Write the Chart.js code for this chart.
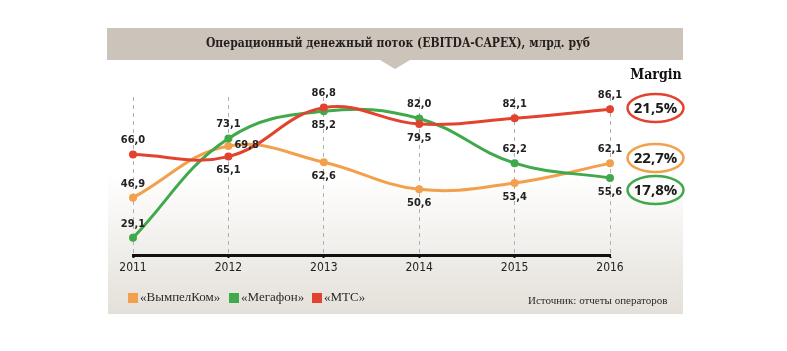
<!DOCTYPE html>
<html>
<head>
<meta charset="utf-8">
<script src="https://cdn.jsdelivr.net/npm/chart.js@4.4.1/dist/chart.umd.min.js"></script>
<style>
  html, body { margin: 0; padding: 0; background: #ffffff; }
  #wrap { width: 787px; height: 351px; position: relative; }
</style>
</head>
<body>
<div id="wrap"><canvas id="cashFlowChart" width="787" height="351"></canvas></div>
<script>
// Данные графика
const years = ['2011', '2012', '2013', '2014', '2015', '2016'];
const vimpelcom = [46.9, 69.8, 62.6, 50.6, 53.4, 62.1];
const megafon = [29.1, 73.1, 85.2, 82.0, 62.2, 55.6];
const mts = [66.0, 65.1, 86.8, 79.5, 82.1, 86.1];
const seriesNames = ['«ВымпелКом»', '«Мегафон»', '«МТС»'];
const margins = ['22,7%', '17,8%', '21,5%'];

const titleText = 'Операционный денежный поток (EBITDA-CAPEX), млрд. руб';
const sourceText = 'Источник: отчеты операторов';

// Цвета серий
const orange = '#f2a04c';
const green = '#3fa94b';
const red = '#e2432f';

// где ставить подпись у каждой точки
const labelSide = [
    ['top', 'right', 'bottom', 'bottom', 'bottom', 'top'],
    ['top', 'top', 'bottom', 'top', 'top', 'bottom'],
    ['top', 'bottom', 'top', 'bottom', 'top', 'top'],
];

const fmt = (v) => v.toFixed(1).replace('.', ',');

// фон, плашка заголовка, подписи, легенда, овалы с маржой
const decorPlugin = {
    id: 'decor',
    beforeDraw(chart) {
        const c = chart.ctx;
        c.save();
        // панель с градиентом
        const g = c.createLinearGradient(0, 60, 0, 314);
        g.addColorStop(0, '#ffffff');
        g.addColorStop(0.45, '#ffffff');
        g.addColorStop(1, '#e4e0d9');
        c.fillStyle = g;
        c.fillRect(108, 60, 575, 254);
        // плашка заголовка
        c.fillStyle = '#ccc4bb';
        c.fillRect(107, 28, 576, 32);
        c.beginPath();
        c.moveTo(380, 60);
        c.lineTo(410, 60);
        c.lineTo(395, 69);
        c.closePath();
        c.fill();
        c.fillStyle = '#231f1c';
        c.font = 'bold 12px "DejaVu Serif Condensed", "DejaVu Serif", serif';
        c.textAlign = 'center';
        c.textBaseline = 'middle';
        c.fillText(titleText, 398, 44);
        c.restore();
    },
    afterDatasetsDraw(chart) {
        const c = chart.ctx;
        c.save();
        c.textBaseline = 'middle';
        // подписи значений
        c.font = 'bold 11px "DejaVu Sans Condensed", "DejaVu Sans", sans-serif';
        c.fillStyle = '#222222';
        chart.data.datasets.forEach((ds, i) => {
            const meta = chart.getDatasetMeta(i);
            meta.data.forEach((pt, j) => {
                const side = labelSide[i][j];
                const txt = fmt(ds.data[j]);
                if (side === 'right') {
                    c.textAlign = 'left';
                    c.fillText(txt, pt.x + 6, pt.y - 1);
                } else {
                    c.textAlign = 'center';
                    c.fillText(txt, pt.x, side === 'top' ? pt.y - 14 : pt.y + 14);
                }
            });
        });

        // колонка Margin
        c.textAlign = 'center';
        c.fillStyle = '#111111';
        c.font = 'bold 14px "DejaVu Serif Condensed", "DejaVu Serif", serif';
        c.fillText('Margin', 656, 75);
        const ovals = [
            { y: 158, color: orange, text: margins[0] },
            { y: 190, color: green, text: margins[1] },
            { y: 108, color: red, text: margins[2] },
        ];
        c.font = 'bold 15px "Open Sans", "DejaVu Sans", sans-serif';
        ovals.forEach((o) => {
            c.beginPath();
            c.ellipse(655.5, o.y, 28, 14, 0, 0, Math.PI * 2);
            c.lineWidth = 2.5;
            c.strokeStyle = o.color;
            c.stroke();
            c.fillStyle = '#1a1a1a';
            c.fillText(o.text, 655.5, o.y + 1);
        });

        // легенда
        const legendColors = [orange, green, red];
        const legendX = [128, 229, 312];
        c.textAlign = 'left';
        c.font = '13px "Liberation Serif", "DejaVu Serif", serif';
        seriesNames.forEach((name, i) => {
            c.fillStyle = legendColors[i];
            c.fillRect(legendX[i], 293, 10, 10);
            c.fillStyle = '#2a2a2a';
            c.fillText(name, legendX[i] + 12, 298);
        });

        // источник
        c.font = '11px "Liberation Serif", serif';
        c.fillStyle = '#2a2a2a';
        c.fillText(sourceText, 528, 301);
        c.restore();
    },
};

const ctxCashFlow = document.getElementById('cashFlowChart').getContext('2d');

const lineStyle = (color, order) => ({
    borderColor: color,
    backgroundColor: color,
    pointBackgroundColor: color,
    pointBorderColor: color,
    borderWidth: 3,
    pointRadius: 4,
    pointBorderWidth: 0,
    tension: 0.4,
    fill: false,
    order: order,
});

new Chart(ctxCashFlow, {
    type: 'line',
    data: {
        labels: years,
        datasets: [
            { label: seriesNames[0], data: vimpelcom, ...lineStyle(orange, 3) },
            { label: seriesNames[1], data: megafon, ...lineStyle(green, 2) },
            { label: seriesNames[2], data: mts, ...lineStyle(red, 1) },
        ],
    },
    options: {
        responsive: false,
        animation: false,
        layout: { padding: { left: 133, right: 177, top: 97, bottom: 76 } },
        plugins: {
            legend: { display: false },
            tooltip: { enabled: false },
        },
        scales: {
            x: {
                offset: false,
                afterFit: (scale) => { scale.height = 20; },
                grid: {
                    color: '#b0b0b0',
                    lineWidth: 1,
                    drawTicks: true,
                    tickLength: 3,
                    tickColor: '#111111',
                    tickWidth: 2,
                    tickBorderDash: [],
                },
                border: { display: true, color: '#111111', width: 3, dash: [4, 4] },
                ticks: {
                    color: '#222222',
                    padding: 3,
                    font: { size: 12, family: '"DejaVu Sans Condensed", "DejaVu Sans", sans-serif' },
                },
            },
            y: {
                display: false,
                min: 21.5,
                max: 91.5,
            },
        },
    },
    plugins: [decorPlugin],
});
</script>
</body>
</html>
